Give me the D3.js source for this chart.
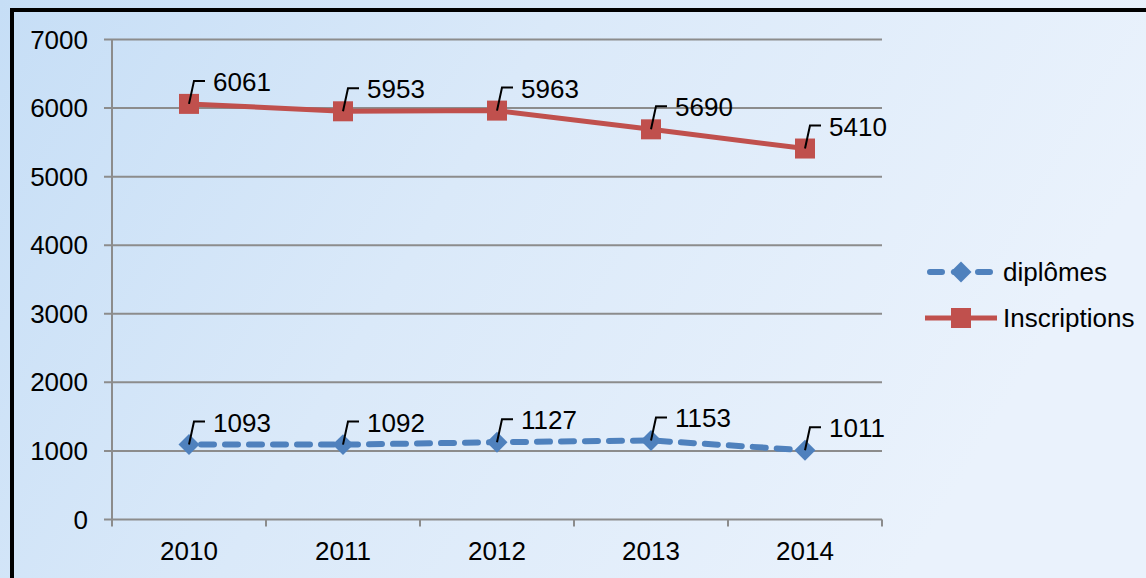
<!DOCTYPE html>
<html><head><meta charset="utf-8">
<script src="https://cdn.jsdelivr.net/npm/d3@7"></script>
<style>body{margin:0;overflow:hidden}svg{display:block}</style>
</head><body>
<svg id="c" width="1146" height="578"></svg>
<script>
const years = ["2010","2011","2012","2013","2014"];
const diplomes = [1093,1092,1127,1153,1011];
const inscriptions = [6061,5953,5963,5690,5410];
const yTicks = [0,1000,2000,3000,4000,5000,6000,7000];
const seriesNames = ["diplômes","Inscriptions"];

const svg = d3.select("#c");
const W = 1146, H = 578;
const defs = svg.append("defs");
const g1 = defs.append("linearGradient").attr("id","bg").attr("x1","0").attr("y1","0").attr("x2","1").attr("y2","0.3");
g1.append("stop").attr("offset","0").attr("stop-color","#c6def6");
g1.append("stop").attr("offset","0.45").attr("stop-color","#dae9f9");
g1.append("stop").attr("offset","1").attr("stop-color","#eaf2fc");
svg.append("rect").attr("width",W).attr("height",H).attr("fill","url(#bg)");
svg.append("rect").attr("x",12).attr("y",10).attr("width",W+20).attr("height",H+20)
  .attr("fill","none").attr("stroke","#000").attr("stroke-width",4);

const font = "Liberation Sans, Arial, sans-serif";
const fs = 26;
const x = d3.scaleBand().domain(years).range([112,882]);
const y = d3.scaleLinear().domain([0,7000]).range([519.5,39.5]);
const cx = d => x(d)+x.bandwidth()/2;

// gridlines
svg.append("g").selectAll("line").data(yTicks).join("line")
  .attr("x1",104).attr("x2",882).attr("y1",d=>y(d)).attr("y2",d=>y(d))
  .attr("stroke","#8c8c8c").attr("stroke-width",2);
// y axis line
svg.append("line").attr("x1",112).attr("x2",112).attr("y1",y(7000)).attr("y2",y(0))
  .attr("stroke","#8c8c8c").attr("stroke-width",2);
// x ticks at band boundaries
const bounds = years.map(d=>x(d)).concat([882]);
svg.append("g").selectAll("line").data(bounds).join("line")
  .attr("x1",d=>d).attr("x2",d=>d).attr("y1",y(0)).attr("y2",y(0)+7)
  .attr("stroke","#8c8c8c").attr("stroke-width",2);
// y labels
svg.append("g").selectAll("text").data(yTicks).join("text")
  .attr("x",88).attr("y",d=>y(d)+9).attr("text-anchor","end")
  .attr("font-family",font).attr("font-size",fs).attr("fill","#000").text(d=>d);
// x labels
svg.append("g").selectAll("text").data(years).join("text")
  .attr("x",d=>cx(d)).attr("y",560).attr("text-anchor","middle")
  .attr("font-family",font).attr("font-size",fs).attr("fill","#000").text(d=>d);

const line = d3.line().x((d,i)=>cx(years[i])).y(d=>y(d));
// Inscriptions
svg.append("path").datum(inscriptions).attr("d",line).attr("fill","none")
  .attr("stroke","#c0504d").attr("stroke-width",5);
svg.append("g").selectAll("rect").data(inscriptions).join("rect")
  .attr("x",(d,i)=>cx(years[i])-10).attr("y",d=>y(d)-10).attr("width",20).attr("height",20)
  .attr("fill","#c0504d");
// diplomes
svg.append("path").datum(diplomes).attr("d",line).attr("fill","none")
  .attr("stroke","#4f81bd").attr("stroke-width",6).attr("stroke-dasharray","13,11")
  .attr("stroke-linecap","round").attr("stroke-dashoffset",-12);
const diamond = d3.symbol().type(d3.symbolSquare).size(220);
svg.append("g").selectAll("path").data(diplomes).join("path")
  .attr("d",diamond())
  .attr("transform",(d,i)=>`translate(${cx(years[i])},${y(d)}) rotate(45)`)
  .attr("fill","#4f81bd");

// data labels
function labels(data){
  const g = svg.append("g");
  data.forEach((v,i)=>{
    const px = cx(years[i]), py = y(v);
    g.append("path").attr("d",`M${px},${py} L${px+5},${py-23} L${px+16},${py-23}`)
      .attr("fill","none").attr("stroke","#000").attr("stroke-width",2);
    g.append("text").attr("x",px+24).attr("y",py-13).attr("font-family",font)
      .attr("font-size",fs).attr("fill","#000").text(v);
  });
}
labels(inscriptions);
labels(diplomes);

// legend
const leg = svg.append("g");
leg.append("line").attr("x1",927).attr("x2",995).attr("y1",272).attr("y2",272)
  .attr("stroke","#4f81bd").attr("stroke-width",6).attr("stroke-dasharray","12,12")
  .attr("stroke-linecap","round").attr("stroke-dashoffset",-3);
leg.append("path").attr("d",diamond()).attr("transform","translate(961,272) rotate(45)").attr("fill","#4f81bd");
leg.append("text").attr("x",1003).attr("y",281).attr("font-family",font).attr("font-size",fs).text(seriesNames[0]);
leg.append("line").attr("x1",925).attr("x2",997).attr("y1",318).attr("y2",318)
  .attr("stroke","#c0504d").attr("stroke-width",5);
leg.append("rect").attr("x",951).attr("y",308).attr("width",20).attr("height",20).attr("fill","#c0504d");
leg.append("text").attr("x",1003).attr("y",327).attr("font-family",font).attr("font-size",fs).text(seriesNames[1]);
</script>
</body></html>
